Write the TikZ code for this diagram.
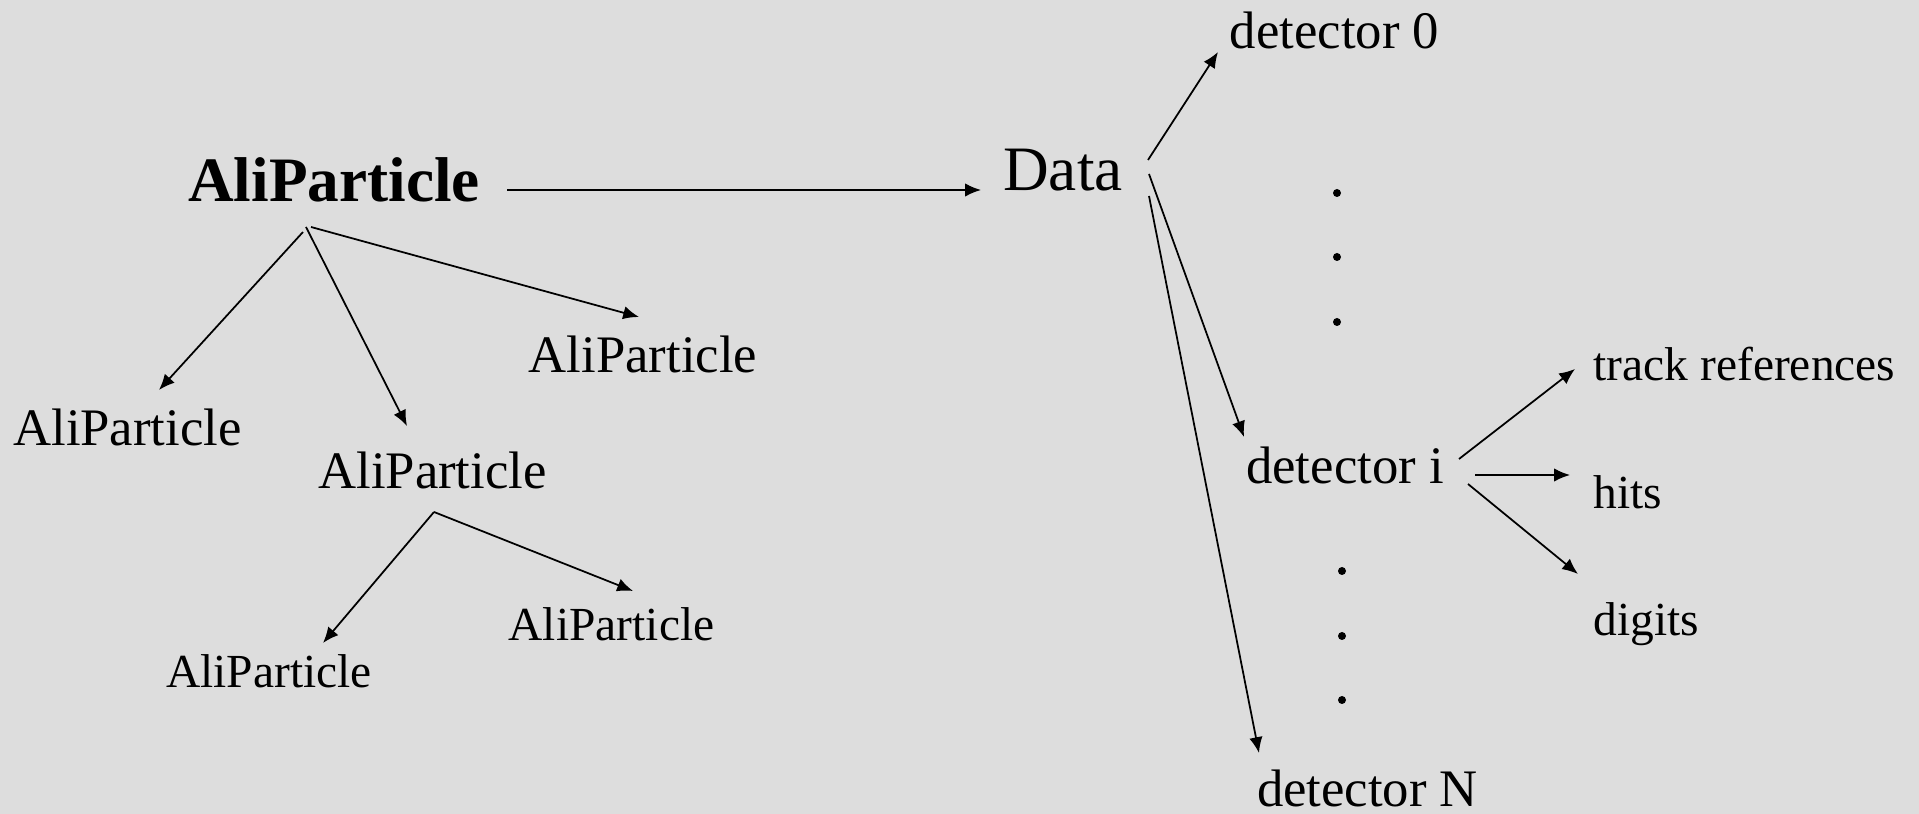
\documentclass[tikz,border=0pt]{standalone}
\usepackage{fontspec}
\setmainfont{Liberation Serif}
\usetikzlibrary{arrows.meta}
\definecolor{slidegray}{RGB}{221,221,221}

\begin{document}
\begin{tikzpicture}[
    >={Latex[length=4.5pt,width=3.8pt]},
    arr/.style={->, line width=0.5pt},
    head/.style={inner sep=0pt, anchor=base, font=\fontsize{18}{21}\selectfont},
    item/.style={inner sep=0pt, anchor=base, font=\fontsize{15}{18}\selectfont},
    leaf/.style={inner sep=0pt, anchor=base, font=\fontsize{13.5}{16}\selectfont},
    part/.style={leaf, anchor=base west}]

  \fill[slidegray] (0,0) rectangle (19.19,8.14);
  \useasboundingbox (0,0) rectangle (19.19,8.14);

  % particle tree
  \node[head] (root) at (3.34,6.12) {\textbf{AliParticle}};
  \node[item] (p1) at (1.275,3.68) {AliParticle};
  \node[item] (p2) at (4.325,3.25) {AliParticle};
  \node[item] (p3) at (6.43,4.41) {AliParticle};
  \node[leaf] (p4) at (2.69,1.26) {AliParticle};
  \node[leaf] (p5) at (6.115,1.73) {AliParticle};

  % data and detectors
  \node[head] (data) at (10.63,6.23) {Data};
  \node[item] (det0) at (13.345,7.65) {detector 0};
  \node[item] (deti) at (13.45,3.30) {detector i};
  \node[item] (detn) at (13.675,0.07) {detector N};
  \node[part] (tref) at (15.93,4.33) {track references};
  \node[part] (hits) at (15.93,3.05) {hits};
  \node[part] (digi) at (15.93,1.78) {digits};

  \coordinate (r1) at (3.03,5.82);
  \coordinate (r2) at (3.06,5.87);
  \coordinate (r3) at (3.11,5.87);
  \coordinate (m0) at (4.34,3.02);
  \coordinate (rd) at (5.07,6.24);
  \coordinate (dl) at (9.81,6.24);
  \coordinate (d1) at (11.48,6.54);
  \coordinate (d2) at (11.49,6.40);
  \coordinate (d3) at (11.49,6.18);
  \coordinate (i1) at (14.59,3.55);
  \coordinate (i2) at (14.75,3.39);
  \coordinate (i3) at (14.68,3.30);

  \coordinate (p1t) at (1.59,4.24);
  \coordinate (p2t) at (4.07,3.88);
  \coordinate (p3t) at (6.39,4.97);
  \coordinate (p4t) at (3.23,1.71);
  \coordinate (p5t) at (6.33,2.23);
  \coordinate (det0t) at (12.18,7.62);
  \coordinate (detit) at (12.44,3.77);
  \coordinate (detnt) at (12.59,0.61);
  \coordinate (treft) at (15.75,4.45);
  \coordinate (hitst) at (15.70,3.39);
  \coordinate (digit) at (15.78,2.40);

  \draw[arr] (rd) -- (dl);
  \draw[arr] (r1) -- (p1t);
  \draw[arr] (r2) -- (p2t);
  \draw[arr] (r3) -- (p3t);
  \draw[arr] (m0) -- (p4t);
  \draw[arr] (m0) -- (p5t);

  \draw[arr] (d1) -- (det0t);
  \draw[arr] (d2) -- (detit);
  \draw[arr] (d3) -- (detnt);
  \draw[arr] (i1) -- (treft);
  \draw[arr] (i2) -- (hitst);
  \draw[arr] (i3) -- (digit);

  % dots between the detectors
  \fill (13.37,6.21) circle (0.04) (13.37,5.57) circle (0.04) (13.37,4.92) circle (0.04);
  \fill (13.42,2.43) circle (0.04) (13.42,1.78) circle (0.04) (13.42,1.14) circle (0.04);

\end{tikzpicture}
\end{document}
